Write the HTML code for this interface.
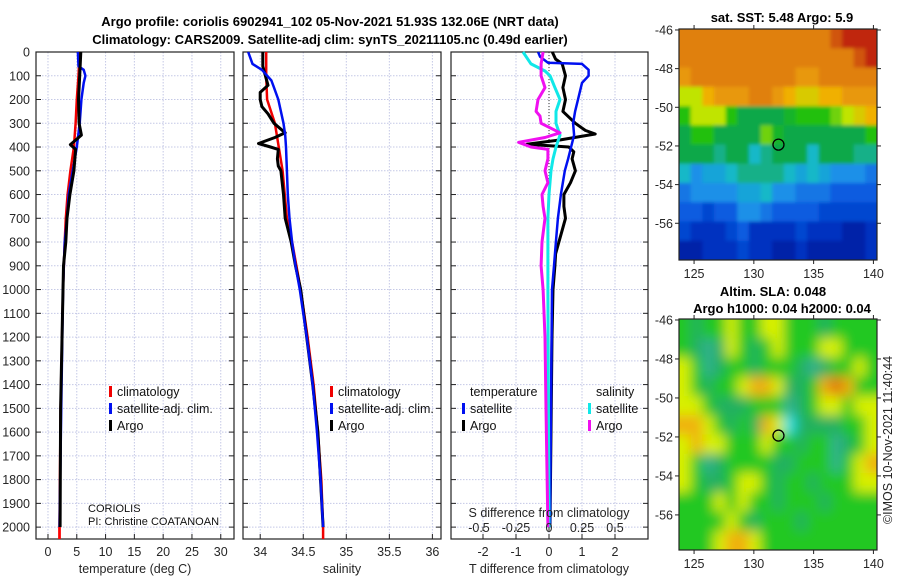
<!DOCTYPE html>
<html><head><meta charset="utf-8">
<style>
body{margin:0;background:#fff;width:900px;height:580px;overflow:hidden}
svg{font-family:"Liberation Sans","DejaVu Sans",sans-serif}
.tk{font-size:12.5px;fill:#262626}
.lg{font-size:12.5px;fill:#111}
.tt{font-size:13px;font-weight:bold;fill:#000}
</style></head><body>
<svg id="fig" width="900" height="580" viewBox="0 0 900 580" xmlns="http://www.w3.org/2000/svg">
<text class="tt" x="330" y="26" text-anchor="middle">Argo profile: coriolis 6902941_102 05-Nov-2021 51.93S 132.06E (NRT data)</text>
<text class="tt" x="330" y="44" text-anchor="middle">Climatology: CARS2009. Satellite-adj clim: synTS_20211105.nc (0.49d earlier)</text>
<text class="tt" x="782" y="22" text-anchor="middle">sat. SST: 5.48 Argo: 5.9</text>
<text class="tt" x="773" y="296" text-anchor="middle">Altim. SLA: 0.048</text>
<text class="tt" x="782" y="313" text-anchor="middle">Argo h1000: 0.04 h2000: 0.04</text>
<text class="tk" transform="translate(892,440) rotate(-90)" text-anchor="middle">©IMOS 10-Nov-2021 11:40:44</text>
<g id="g"></g>
</svg>
<script>
// ---- profile data (depth m) ----
const tempDepth=[0,100,200,300,350,390,410,500,600,700,800,900,1000,1500,2000];
const tempArgo=[5.7,5.5,5.3,5.4,5.8,3.9,4.8,4.5,3.8,3.3,3.1,2.7,2.6,2.2,2.1];
const climDepth=[0,100,200,300,400,500,600,700,800,1000,1500,2000,2050];
const tempClim=[5.5,5.3,5.0,4.8,4.5,3.9,3.4,3.1,2.9,2.6,2.2,2.0,2.0];
const satDepth=[0,60,75,100,130,200,300,400,500,600,700,800,1000,2000];
const tempSat=[5.2,5.3,6.2,6.5,6.2,5.8,5.5,5.0,4.3,3.6,3.3,2.9,2.6,2.0];
const salClimDepth=[0,100,200,300,500,700,800,900,1000,1200,1400,1600,1800,2000,2050];
const salClim=[34.07,34.07,34.08,34.17,34.26,34.31,34.37,34.42,34.47,34.55,34.62,34.67,34.71,34.73,34.73];
const salSatDepth=[0,50,75,120,150,200,300,350,400,500,600,700,800,900,1000,1200,1400,1600,1800,2000];
const salSat=[33.86,33.91,34.02,34.13,34.16,34.21,34.27,34.29,34.30,34.31,34.32,34.34,34.37,34.41,34.46,34.54,34.61,34.66,34.70,34.73];
const salArgoDepth=[0,60,100,140,170,200,230,260,300,340,360,385,400,410,450,480,500,600,700,800,900,1000,1200,1400,1600,2000];
const salArgo=[34.03,34.03,34.06,34.09,34.0,34.0,34.02,34.09,34.16,34.29,34.17,33.98,34.12,34.21,34.20,34.21,34.24,34.27,34.29,34.36,34.41,34.47,34.54,34.61,34.67,34.73];
const dDepth=[0,30,50,100,150,200,250,300,330,345,370,388,400,420,450,500,550,600,650,700,750,800,850,900,1000,1200,2000];
const dTArgo=[0.1,0.2,0.4,0.5,0.42,0.5,0.42,0.8,1.1,1.4,0.35,-0.67,0.6,0.75,0.7,0.8,0.65,0.45,0.45,0.5,0.4,0.3,0.2,0.18,0.12,0.09,0.03];
const dSatDepth=[0,20,45,50,75,100,130,200,250,300,350,400,450,500,600,700,800,900,1000,2000];
const dTSat=[-0.33,-0.27,-0.03,1.0,1.2,1.2,1.0,0.88,0.79,0.73,0.76,0.67,0.58,0.48,0.36,0.27,0.21,0.15,0.09,0.03];
const dSDepth=[0,50,80,100,150,200,250,300,350,400,450,500,600,700,800,1000,2000];
const dSSat=[-0.197,-0.136,-0.03,0.008,0.045,0.083,0.053,0.053,0.083,0.053,0.03,0.015,0,-0.008,-0.008,-0.008,0];
const dSArgoDepth=[0,50,100,150,200,250,270,300,340,360,380,400,410,450,500,550,600,650,700,800,900,1000,1200,1500,2000];
const dSArgo=[-0.045,-0.06,-0.06,-0.03,-0.083,-0.098,-0.068,-0.06,0.083,-0.03,-0.23,-0.136,-0.008,-0.008,-0.03,-0.008,-0.053,-0.045,-0.03,-0.053,-0.06,-0.045,-0.03,-0.023,-0.008];
const tTicks=[0,5,10,15,20,25,30];
const sTicks=[34,34.5,35,35.5,36];
const sTickLabels=["34","34.5","35","35.5","36"];
const dTicks=[-2,-1,0,1,2];
const dsTicks=[-0.5,-0.25,0,0.25,0.5];
const dsTickLabels=["-0.5","-0.25","0","0.25","0.5"];
const depthTicks=[0,100,200,300,400,500,600,700,800,900,1000,1100,1200,1300,1400,1500,1600,1700,1800,1900,2000];
// ---- map data ----
const latTicks=[-46,-48,-50,-52,-54,-56];
const lonTicks=[125,130,135,140];
const sstGrid=[
[9,9,9,9,9,9,9,9,9,9,9,9,9,9.5,10,10,10],
[9,9,9,9,9,9,9,9,9,9,9,9,9,9,9,9.5,10],
[8.5,9,9,9,9,9,9,9,9,9,8.5,8.5,9,9,9,9,9],
[7,7,8,8.5,8.5,8.5,9,9,8.5,8,7.5,7.5,8,8,8.5,8.5,8.5],
[6,7,7,7,6,5,5,5,5,5.5,6,6,6,6.5,7,7.5,8],
[5,6,6,5,5,5,5,6.5,5.5,5,5,5,5,5,5,5,6],
[5,5,5,4.5,5,5,4,4.5,5,5,5,4,5,5,5,4.5,4.5],
[4,3,3.5,3.5,4,4.5,4.5,4.5,4.5,4,3.5,4,3.5,3,3,3,2.5],
[2.5,3,3,3,3,3.5,3.5,4,3,3,2.5,2.5,2.5,2,2,2,2],
[2,2,1.5,2,2,3,3,2.5,2,2,2,2,1.5,1.5,1.5,1.5,1.5],
[1.5,1,1,1,1.5,2,1,1,1,1,1.5,1,1,1,0.5,0.5,1],
[0.5,0.5,1,1,1,1.5,1,1,0.5,0.5,1,0.5,0.5,0.5,0.5,0.5,1]];
const slaGrid=[
[6,5,6,6,7,6,6,7,7,6,6,6,5,6,6,6,6],
[6,5,4,5,7,6,5,6,7,6,6,6,7,7,6,6,6],
[7,6,4,5,6,6,5,6,6,6,5,4,5,6,6,7,6],
[7,6,5,6,6,7,8,8,7,5,5,6,8,9,8,6,6],
[7,7,6,5,5,5,6,6,6,4,5,6,7,7,6,7,7],
[8,8,7,6,5,6,5,8,7,3,5,5,5,5,6,6,7],
[7,8,7,7,6,6,6,7,6,6,5,6,6,4,5,6,7],
[7,6,4,5,6,6,6,6,5,5,6,6,6,4,6,7,8],
[7,6,5,5,6,7,7,6,5,6,6,5,6,6,6,7,7],
[6,6,6,7,6,7,6,6,5,6,6,6,5,6,6,6,6],
[6,6,6,6,7,6,5,6,6,6,5,6,6,6,6,6,6],
[6,6,6,7,8,8,7,6,6,6,6,6,6,6,6,6,6]];
const floatLon=132.06, floatLat=-51.93;

const NS="http://www.w3.org/2000/svg";
const G=document.getElementById('g');
function mk(t,a,p){const e=document.createElementNS(NS,t);for(const k in a)e.setAttribute(k,a[k]);(p||G).appendChild(e);return e;}
const yTop=52,yBot=539,dMax=2050;
const yD=d=>yTop+(yBot-yTop)*d/dMax;
function lin(a,b,pa,pb){return v=>pa+(v-a)*(pb-pa)/(b-a);}
const xT=lin(-2.08,32.3,36,234), xS=lin(33.8,36.1,243,441), xDT=lin(-3,3,450,648), xDS=v=>xDT(v*4);

function frame(x0,x1,xf,ticks,labels,nm){
  const g=mk('g',{});
  depthTicks.forEach(d=>{mk('line',{x1:x0,x2:x1,y1:yD(d),y2:yD(d),stroke:'#c4c8e6','stroke-dasharray':'1.5,1.5','stroke-width':1},g);
    mk('line',{x1:x0,x2:x0+5,y1:yD(d),y2:yD(d),stroke:'#222'},g);mk('line',{x1:x1-5,x2:x1,y1:yD(d),y2:yD(d),stroke:'#222'},g);});
  ticks.forEach((t,i)=>{const x=xf(t);mk('line',{x1:x,x2:x,y1:yTop,y2:yBot,stroke:'#c4c8e6','stroke-dasharray':'1.5,1.5'},g);
    mk('line',{x1:x,x2:x,y1:yBot-5,y2:yBot,stroke:'#222'},g);
    const tx=mk('text',{x:x,y:yBot+17,'text-anchor':'middle',class:'tk'},g);tx.textContent=labels[i];});
  mk('rect',{x:x0,y:yTop,width:x1-x0,height:yBot-yTop,fill:'none',stroke:'#222','stroke-width':1.2},g);
  return g;
}
function line(xs,ds,xf,col,w,nm){
  const p=xs.map((v,i)=>xf(v).toFixed(1)+','+yD(ds[i]).toFixed(1)).join(' ');
  const e=mk('polyline',{points:p,fill:'none',stroke:col,'stroke-width':w,'stroke-linejoin':'round'});
  
  
}
function txt(x,y,s,cls,nm,anchor){const t=mk('text',{x:x,y:y,class:cls,'text-anchor':anchor||'start'});t.textContent=s;
  
  return t;}

// panel 1
frame(36,234,xT,tTicks,tTicks.map(String),'temperature-panel');
depthTicks.forEach(d=>{txt(30,yD(d)+4.5,String(d),'tk','depth-tick-label','end');});
line(tempClim,climDepth,xT,'#f00000',2.5,'temp-climatology-line');
line(tempSat,satDepth,xT,'#0010f0',2.5,'temp-satellite-line');
line(tempArgo,tempDepth,xT,'#000',3,'temp-argo-line');
mk('polyline',{points:xT(2.0)+','+yD(2000)+' '+xT(2.0)+','+yD(2050),stroke:'#f00',fill:'none','stroke-width':2.5});
txt(135,573,'temperature (deg C)','tk','temperature-axis-title','middle');
// panel 2
frame(243,441,xS,sTicks,sTickLabels,'salinity-panel');
line(salClim,salClimDepth,xS,'#f00000',2.5,'sal-climatology-line');
line(salArgo,salArgoDepth,xS,'#000',3,'sal-argo-line');
line(salSat,salSatDepth,xS,'#0010f0',2.5,'sal-satellite-line');
txt(342,573,'salinity','tk','salinity-axis-title','middle');
// panel 3
frame(451,648,xDT,dTicks,dTicks.map(String),'difference-panel');
mk('line',{x1:xDT(0),x2:xDT(0),y1:yTop,y2:yD(700),stroke:'#333','stroke-dasharray':'1,2'});
line(dTArgo,dDepth,xDT,'#000',3,'tdiff-argo-line');
line(dTSat,dSatDepth,xDT,'#0010f0',2.5,'tdiff-satellite-line');
line(dSSat,dSDepth,xDS,'#10e8e8',3,'sdiff-satellite-line');
line(dSArgo,dSArgoDepth,xDS,'#f010f0',3,'sdiff-argo-line');
dsTicks.forEach((t,i)=>{mk('line',{x1:xDS(t),x2:xDS(t),y1:yD(2000),y2:yD(2000)+4,stroke:'#222'});
  txt(xDS(t)+(i==0?-4:0),532,dsTickLabels[i],'tk','sdiff-tick-label','middle');});
txt(549,517,'S difference from climatology','tk','sdiff-axis-title','middle');
txt(549,573,'T difference from climatology','tk','tdiff-axis-title','middle');

// legends
function leg(x,y,col,label,nm){const r=mk('rect',{x:x,y:y-10,width:3,height:11,fill:col});
  
  
  txt(x+8,y,label,'lg',nm,'start');}
leg(109,396,'#f00000','climatology','legend-climatology');
leg(109,413,'#0010f0','satellite-adj. clim.','legend-satellite-adj');
leg(109,430,'#000','Argo','legend-argo');
leg(330,396,'#f00000','climatology','legend2-climatology');
leg(330,413,'#0010f0','satellite-adj. clim.','legend2-satellite-adj');
leg(330,430,'#000','Argo','legend2-argo');
txt(470,396,'temperature','lg','legend-temperature-header');
txt(596,396,'salinity','lg','legend-salinity-header');
leg(462,413,'#0010f0','satellite','legend-t-satellite');
leg(462,430,'#000','Argo','legend-t-argo');
leg(588,413,'#10e8e8','satellite','legend-s-satellite');
leg(588,430,'#f010f0','Argo','legend-s-argo');
txt(88,512,'CORIOLIS','lg','data-centre-note').setAttribute('style','font-size:11px');
txt(88,525,'PI: Christine COATANOAN','lg','pi-note').setAttribute('style','font-size:11px');

// maps
const sstStops=['#001890','#0030c0','#0a5ce0','#1a90e8','#18b8c8','#10a848','#20c010','#c0e400','#f0b000','#e08010','#c02810'];
const slaStops=['#0030c0','#0a5ce0','#1a90e8','#20e0e8','#30b090','#20b060','#20c820','#d8f000','#f0b010','#e07010'];
function hex(c){return [1,3,5].map(i=>parseInt(c.substr(i,2),16));}
function cmap(stops,v){const i=Math.max(0,Math.min(stops.length-1.001,v));const a=hex(stops[Math.floor(i)]),b=hex(stops[Math.floor(i)+1]),f=i-Math.floor(i);
  return 'rgb('+a.map((x,k)=>Math.round(x+(b[k]-x)*f)).join(',')+')';}
let mid=0;
function map(x0,x1,y0,y1,lonMin,lonMax,latTop,latBot,grid,stops,blur,nm){
  const xL=lin(lonMin,lonMax,x0,x1),yL=lin(latTop,latBot,y0,y1);
  const g=mk('g',{});
  const id='c'+(mid++);
  const cp=mk('clipPath',{id:id},g);mk('rect',{x:x0,y:y0,width:x1-x0,height:y1-y0},cp);
  if(blur){const f=mk('filter',{id:'f'+id,filterUnits:'userSpaceOnUse',x:x0-30,y:y0-30,width:x1-x0+60,height:y1-y0+60},g);mk('feGaussianBlur',{stdDeviation:blur},f);}
  const inner=mk('g',{'clip-path':'url(#'+id+')'},g);
  const cells=mk('g',blur?{filter:'url(#f'+id+')'}:{},inner);
  const nr=grid.length,nc=grid[0].length,lonStep=(lonMax-lonMin)/nc,latStep=(latTop-latBot)/nr;
  grid.forEach((row,r)=>row.forEach((v,c)=>{
    const lo=lonMin+c*lonStep,la=latTop-r*latStep;
    const pad=blur?15:0;
    const ex=c==0?-pad:0, ew=(c==0?pad:0)+(c==nc-1?pad:0), ey=r==0?-pad:0, eh=(r==0?pad:0)+(r==nr-1?pad:0);
    const cell=mk('rect',{x:xL(lo)+ex,y:yL(la)+ey,width:xL(lo+lonStep)-xL(lo)+0.6+ew,height:yL(la-latStep)-yL(la)+0.6+eh,fill:cmap(stops,v)},cells);
    
    
  }));
  const mkr=mk('circle',{cx:xL(floatLon),cy:yL(floatLat),r:5.5,fill:'none',stroke:'#000','stroke-width':1.3},g);
  
  
  mk('rect',{x:x0,y:y0,width:x1-x0,height:y1-y0,fill:'none',stroke:'#222','stroke-width':1.2},g);
  latTicks.forEach(t=>{const y=yL(t);mk('line',{x1:x0-4,x2:x0,y1:y,y2:y,stroke:'#222'},g);mk('line',{x1:x1,x2:x1+4,y1:y,y2:y,stroke:'#222'},g);
    txt(x0-6,y+4.5,String(t),'tk','lat-tick-label','end');});
  lonTicks.forEach(t=>{const x=xL(t);mk('line',{x1:x,x2:x,y1:y1,y2:y1+4,stroke:'#222'},g);mk('line',{x1:x,x2:x,y1:y0-4,y2:y0,stroke:'#222'},g);
    txt(x,y1+18,String(t),'tk','lon-tick-label','middle');});
}
map(679,877,29,260,123.74,140.3,-45.95,-57.9,sstGrid,sstStops,1.8,'sst-map');
map(679,877,319,550,123.74,140.3,-45.95,-57.8,slaGrid,slaStops,6,'sla-map');
</script>
</body></html>
